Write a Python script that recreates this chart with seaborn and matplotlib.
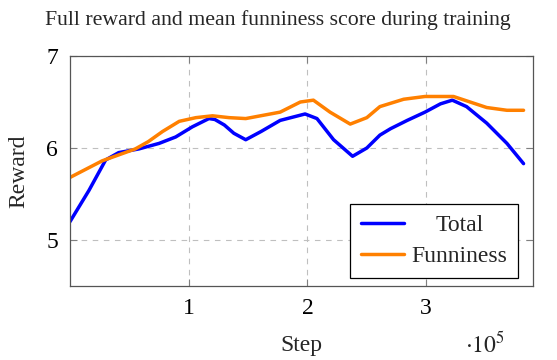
import pandas as pd
import seaborn as sns
import matplotlib.pyplot as plt

# values (step in units of 1e5)
total_step = [0.0, 0.16, 0.30, 0.41, 0.58, 0.75, 0.89, 1.03, 1.17, 1.22, 1.30, 1.38, 1.48,
              1.61, 1.77, 1.98, 2.08, 2.22, 2.38, 2.50, 2.61, 2.70, 2.84, 2.99, 3.12, 3.22,
              3.34, 3.51, 3.68, 3.82]
total_val = [5.20, 5.54, 5.87, 5.95, 5.99, 6.05, 6.12, 6.23, 6.32, 6.31, 6.25, 6.16, 6.09,
             6.18, 6.30, 6.37, 6.32, 6.09, 5.91, 6.00, 6.14, 6.21, 6.30, 6.39, 6.48, 6.52,
             6.45, 6.27, 6.05, 5.83]

fun_step = [0.0, 0.27, 0.55, 0.66, 0.78, 0.92, 1.06, 1.20, 1.34, 1.48, 1.77, 1.94, 2.05,
            2.19, 2.36, 2.50, 2.61, 2.81, 2.99, 3.23, 3.37, 3.51, 3.68, 3.82]
fun_val = [5.68, 5.86, 5.99, 6.07, 6.18, 6.29, 6.33, 6.35, 6.33, 6.32, 6.39, 6.50, 6.52,
           6.39, 6.26, 6.33, 6.45, 6.53, 6.56, 6.56, 6.50, 6.44, 6.41, 6.41]

df = pd.DataFrame({
    "Step": [s * 1e5 for s in total_step] + [s * 1e5 for s in fun_step],
    "Reward": total_val + fun_val,
    "Series": ["Total"] * len(total_step) + ["Funniness"] * len(fun_step),
})

sns.set_style("ticks")
plt.rcParams["font.family"] = ["Liberation Serif", "DejaVu Serif"]
plt.rcParams["mathtext.fontset"] = "stix"

palette = {"Total": "#0000FF", "Funniness": "#FF8000"}

fig = plt.figure(figsize=(5.57, 3.6), dpi=100)
ax = fig.add_axes([0.1257, 0.2056, 0.8313, 0.6388])

sns.lineplot(data=df, x="Step", y="Reward", hue="Series", palette=palette,
             linewidth=2.5, ax=ax, sort=False)
for ln in ax.get_lines():
    ln.set_solid_joinstyle("round")
    ln.set_solid_capstyle("round")

ax.set_xlim(0, 3.9e5)
ax.set_ylim(4.5, 7)
ax.set_xticks([1e5, 2e5, 3e5])
ax.set_xticklabels(["1", "2", "3"])
ax.set_yticks([5, 6, 7])
ax.set_yticklabels(["5", "6", "7"])
ax.tick_params(direction="in", length=5, color="#808080", labelsize=17,
               labelcolor="black", top=True, right=True, pad=8.5)
ax.grid(True, linestyle=(0, (5, 5)), color="#bfbfbf", linewidth=0.8)
for sp in ax.spines.values():
    sp.set_color("#555555")
    sp.set_linewidth(0.9)

ax.set_xlabel("Step", fontsize=17, labelpad=12)
ax.set_ylabel("Reward", fontsize=17, labelpad=12)
fig.text(0.498, 0.931, "Full reward and mean funniness score during training",
         fontsize=15.7, ha="center", va="baseline")
fig.text(0.835, 0.02, r"$\cdot10^{5}$", fontsize=17)

leg = ax.legend(loc="lower right", bbox_to_anchor=(0.9676, 0.0348), borderaxespad=0,
                fontsize=17, frameon=True, fancybox=False, edgecolor="black",
                framealpha=1, handlelength=1.8, handletextpad=0.34,
                labelspacing=0.4, borderpad=0.45)
leg.get_frame().set_linewidth(0.9)

# pgfplots centres legend entries; shift the shorter label to the middle
fig.canvas.draw()
texts = leg.get_texts()
widths = [t.get_window_extent().width for t in texts]
wmax = max(widths)
for t, w in zip(texts, widths):
    t.set_x((wmax - w) / 2)

fig.savefig("out.png", dpi=100)
